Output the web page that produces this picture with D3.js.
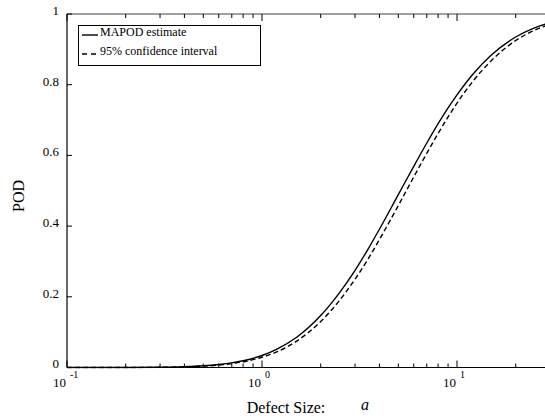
<!DOCTYPE html>
<html>
<head>
<meta charset="utf-8">
<script src="https://cdn.jsdelivr.net/npm/d3@7"></script>
<style>
  html, body { margin: 0; padding: 0; background: #fff; }
  svg { display: block; }
  text { font-family: "Liberation Serif", "DejaVu Serif", serif; fill: #000; }
</style>
</head>
<body>
<svg id="chart" width="545" height="418"></svg>
<script>
// ---- data ----
const defectSizes = [0.1, 0.2, 0.3, 0.4, 0.5, 0.6, 0.7, 0.8, 1, 1.2, 1.5, 2, 2.5, 3, 3.5, 4, 5, 6, 7, 8, 10, 12, 15, 20, 25, 30];
const podEstimate = [0, 0.00015, 0.0008, 0.0023, 0.0048, 0.0084, 0.013, 0.019, 0.034, 0.053, 0.085, 0.147, 0.212, 0.275, 0.335, 0.391, 0.489, 0.569, 0.635, 0.690, 0.771, 0.828, 0.884, 0.935, 0.961, 0.975];
const podLowerCI  = [0, 0.0001, 0.0006, 0.0018, 0.0038, 0.0068, 0.011, 0.016, 0.029, 0.045, 0.074, 0.130, 0.190, 0.250, 0.307, 0.362, 0.458, 0.539, 0.606, 0.662, 0.748, 0.808, 0.868, 0.925, 0.954, 0.971];
const xMajorTicks = [0.1, 1, 10];
const xMajorExponents = ["-1", "0", "1"];
const xMinorTicks = [0.2, 0.3, 0.4, 0.5, 0.6, 0.7, 0.8, 0.9, 2, 3, 4, 5, 6, 7, 8, 9, 20, 30];
const yTicks = [0, 0.2, 0.4, 0.6, 0.8, 1];
const yTickLabels = ["0", "0.2", "0.4", "0.6", "0.8", "1"];
const legendLabels = ["MAPOD estimate", "95% confidence interval"];
const xAxisTitle = "Defect Size:";
const xAxisVar = "a";
const yAxisTitle = "POD";

// ---- layout ----
const FONT = "Liberation Serif, DejaVu Serif, serif";
const svg = d3.select("#chart");
const plotLeft = 67, plotTop = 14, plotBottom = 367.5;
const x = d3.scaleLog().domain([0.1, 10]).range([plotLeft, 457]);
const y = d3.scaleLinear().domain([0, 1]).range([plotBottom, plotTop]);
const plotRight = 560;

svg.append("defs").append("clipPath").attr("id", "plotclip")
  .append("rect").attr("x", plotLeft).attr("y", plotTop - 1)
  .attr("width", plotRight - plotLeft).attr("height", plotBottom - plotTop + 2);

const line = d3.line().x((d) => x(d[0])).y((d) => y(d[1])).curve(d3.curveMonotoneX);
const g = svg.append("g").attr("clip-path", "url(#plotclip)");
g.append("path")
  .datum(defectSizes.map((a, i) => [a, podLowerCI[i]]))
  .attr("d", line).attr("fill", "none").attr("stroke", "#000")
  .attr("stroke-width", 1.4).attr("stroke-dasharray", "5,3");
g.append("path")
  .datum(defectSizes.map((a, i) => [a, podEstimate[i]]))
  .attr("d", line).attr("fill", "none").attr("stroke", "#000")
  .attr("stroke-width", 1.4);

// axes lines
svg.append("line").attr("x1", plotLeft).attr("x2", plotRight).attr("y1", plotBottom).attr("y2", plotBottom)
  .attr("stroke", "#000").attr("stroke-width", 1.2);
svg.append("line").attr("x1", plotLeft).attr("x2", plotRight).attr("y1", plotTop).attr("y2", plotTop)
  .attr("stroke", "#444").attr("stroke-width", 1.2);
svg.append("line").attr("x1", plotLeft).attr("x2", plotLeft).attr("y1", plotTop).attr("y2", plotBottom)
  .attr("stroke", "#000").attr("stroke-width", 1.2);

// x ticks (bottom upward, top downward)
const tickG = svg.append("g").attr("stroke", "#000").attr("stroke-width", 1);
xMajorTicks.forEach((t) => {
  tickG.append("line").attr("x1", x(t)).attr("x2", x(t)).attr("y1", plotBottom).attr("y2", plotBottom - 7);
  tickG.append("line").attr("x1", x(t)).attr("x2", x(t)).attr("y1", plotTop).attr("y2", plotTop + 7);
});
xMinorTicks.forEach((t) => {
  tickG.append("line").attr("x1", x(t)).attr("x2", x(t)).attr("y1", plotBottom).attr("y2", plotBottom - 4);
  tickG.append("line").attr("x1", x(t)).attr("x2", x(t)).attr("y1", plotTop).attr("y2", plotTop + 4);
});
yTicks.forEach((t) => {
  tickG.append("line").attr("x1", plotLeft).attr("x2", plotLeft + 5).attr("y1", y(t)).attr("y2", y(t));
});

// x tick labels: 10 with superscript exponent
xMajorTicks.forEach((t, i) => {
  svg.append("text").attr("x", x(t) - 1).attr("y", 387).attr("text-anchor", "end")
    .attr("font-family", FONT).attr("font-size", 13).text("10");
  svg.append("text").attr("x", x(t) + 3).attr("y", 378).attr("text-anchor", "start")
    .attr("font-family", FONT).attr("font-size", 10).text(xMajorExponents[i]);
});

// y tick labels
yTicks.forEach((t, i) => {
  svg.append("text").attr("x", 59).attr("y", y(t) - 2).attr("text-anchor", "end")
    .attr("dominant-baseline", "middle").attr("font-family", FONT).attr("font-size", 13)
    .text(yTickLabels[i]);
});

// axis titles
svg.append("text").attr("x", 286).attr("y", 413).attr("text-anchor", "middle")
  .attr("font-family", FONT).attr("font-size", 16).text(xAxisTitle);
svg.append("text").attr("x", 361).attr("y", 410).attr("font-family", FONT).attr("font-size", 16)
  .attr("font-style", "italic").text(xAxisVar);
svg.append("text").attr("transform", "translate(24,196) rotate(-90)").attr("text-anchor", "middle")
  .attr("font-family", FONT).attr("font-size", 16).text(yAxisTitle);

// legend
const lg = svg.append("g");
lg.append("rect").attr("x", 78.5).attr("y", 25.5).attr("width", 182).attr("height", 40)
  .attr("fill", "#fff").attr("stroke", "#000").attr("stroke-width", 1);
const legendRows = [{ yPos: 35, dash: null }, { yPos: 54, dash: "5,4" }];
legendRows.forEach((r, i) => {
  lg.append("line").attr("x1", 82).attr("x2", 98).attr("y1", r.yPos).attr("y2", r.yPos)
    .attr("stroke", "#000").attr("stroke-width", 1.4)
    .attr("stroke-dasharray", r.dash);
  lg.append("text").attr("x", 100).attr("y", r.yPos + 1).attr("font-family", FONT)
    .attr("font-size", 12).text(legendLabels[i]);
});
</script>
</body>
</html>
